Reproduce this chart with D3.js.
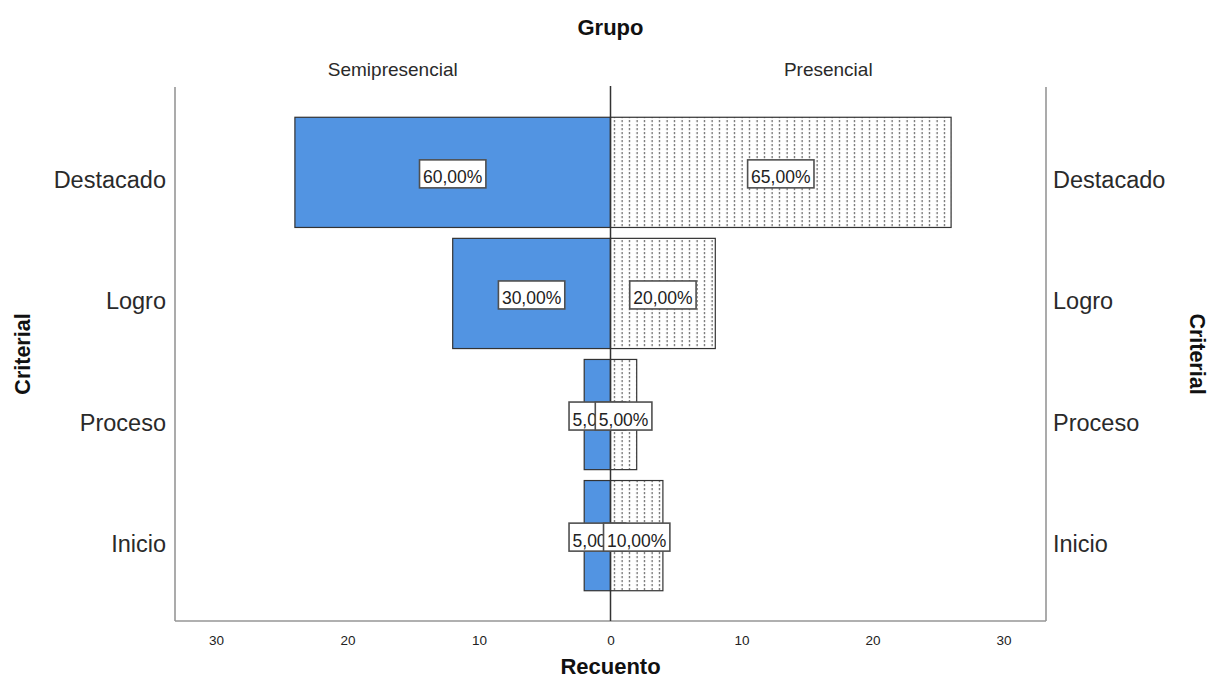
<!DOCTYPE html>
<html><head><meta charset="utf-8">
<script src="https://cdn.jsdelivr.net/npm/d3@7"></script>
<style>body{margin:0;background:#fff}svg{display:block}text{font-family:"Liberation Sans",Arial,sans-serif}</style>
</head><body><svg id="c" width="1211" height="689"></svg>
<script>
const categories = ["Destacado","Logro","Proceso","Inicio"];
const groups = ["Semipresencial","Presencial"];
const semipresencial = [24,12,2,2];
const presencial = [26,8,2,4];
const semiLabels = ["60,00%","30,00%","5,00%","5,00%"];
const presLabels = ["65,00%","20,00%","5,00%","10,00%"];
const ticks = [0,10,20,30];

(function(){
const svg = d3.select("#c");
const cx = 610.5, L = 175, R = 1046, plotTop = 87, plotBottom = 621;
const xL = d3.scaleLinear().domain([0,30]).range([cx, cx-394.5]);
const xR = d3.scaleLinear().domain([0,30]).range([cx, cx+393]);
const y = d3.scaleBand().domain(categories).range([plotTop, plotBottom]).paddingInner(0.09).paddingOuter(0.25);

// pattern
const defs = svg.append("defs");
const pat = defs.append("pattern").attr("id","dots").attr("patternUnits","userSpaceOnUse")
  .attr("x", cx).attr("y", 0).attr("width", 7.5).attr("height", 4);
pat.append("rect").attr("width",7.5).attr("height",4).attr("fill","#fff");
pat.append("rect").attr("x",3.5).attr("y",0).attr("width",1.2).attr("height",2.2).attr("fill","#666");

// frame
const frameCol = "#969696";
svg.append("line").attr("x1",L).attr("x2",L).attr("y1",plotTop).attr("y2",plotBottom).attr("stroke",frameCol).attr("stroke-width",1.6);
svg.append("line").attr("x1",R).attr("x2",R).attr("y1",plotTop).attr("y2",plotBottom).attr("stroke",frameCol).attr("stroke-width",1.6);
svg.append("line").attr("x1",L).attr("x2",R).attr("y1",plotBottom).attr("y2",plotBottom).attr("stroke",frameCol).attr("stroke-width",1.6);

// bars
const bw = y.bandwidth();
svg.append("g").selectAll("rect").data(categories).join("rect")
  .attr("x", (d,i)=>xL(semipresencial[i])).attr("y", d=>y(d))
  .attr("width", (d,i)=>xL(0)-xL(semipresencial[i])).attr("height", bw)
  .attr("fill","#5294e2").attr("stroke","#333").attr("stroke-width",1.2);
svg.append("g").selectAll("rect").data(categories).join("rect")
  .attr("x", xR(0)).attr("y", d=>y(d))
  .attr("width", (d,i)=>xR(presencial[i])-xR(0)).attr("height", bw)
  .attr("fill","url(#dots)").attr("stroke","#333").attr("stroke-width",1.2);

// center line
svg.append("line").attr("x1",cx).attr("x2",cx).attr("y1",plotTop-1).attr("y2",plotBottom).attr("stroke","#333").attr("stroke-width",1.5);

// labels
function addLabel(xc, yc, txt){
  const g = svg.append("g");
  const t = g.append("text").attr("x",xc).attr("y",yc+9.5).attr("text-anchor","middle")
    .attr("font-size",17.5).attr("fill","#222").text(txt);
  const w = t.node().getComputedTextLength() + 7;
  g.insert("rect","text").attr("x",xc-w/2).attr("y",yc-14).attr("width",w).attr("height",28)
    .attr("fill","#fff").attr("stroke","#505050").attr("stroke-width",1.6);
}
categories.forEach((c,i)=>{
  addLabel((xL(0)+xL(semipresencial[i]))/2, y(c)+bw/2+1.5, semiLabels[i]);
});
categories.forEach((c,i)=>{
  addLabel((xR(0)+xR(presencial[i]))/2, y(c)+bw/2+1.5, presLabels[i]);
});

// category labels
svg.append("g").selectAll("text").data(categories).join("text")
  .attr("x",166).attr("y",d=>y(d)+bw/2+16).attr("text-anchor","end")
  .attr("font-size",23.5).attr("fill","#2a2a2a").text(d=>d);
svg.append("g").selectAll("text").data(categories).join("text")
  .attr("x",1053).attr("y",d=>y(d)+bw/2+16).attr("text-anchor","start")
  .attr("font-size",23.5).attr("fill","#2a2a2a").text(d=>d);

// x tick labels
const axL = d3.axisBottom(xL).tickValues(ticks.slice(1)).tickSize(0).tickPadding(14);
const axR = d3.axisBottom(xR).tickValues(ticks).tickSize(0).tickPadding(14);
[axL, axR].forEach(ax=>{
  const g = svg.append("g").attr("transform",`translate(0,${plotBottom})`).call(ax);
  g.select(".domain").remove();
  g.selectAll("text").attr("font-size",13.5).attr("fill","#222").attr("font-family","Liberation Sans, Arial, sans-serif");
});

// titles
svg.append("text").attr("x",cx).attr("y",35).attr("text-anchor","middle")
  .attr("font-size",22).attr("font-weight","bold").attr("fill","#111").text("Grupo");
svg.append("text").attr("x",(L+cx)/2).attr("y",76).attr("text-anchor","middle")
  .attr("font-size",19).attr("fill","#2a2a2a").text(groups[0]);
svg.append("text").attr("x",(cx+R)/2).attr("y",76).attr("text-anchor","middle")
  .attr("font-size",19).attr("fill","#2a2a2a").text(groups[1]);
svg.append("text").attr("x",cx).attr("y",674).attr("text-anchor","middle")
  .attr("font-size",22).attr("font-weight","bold").attr("fill","#111").text("Recuento");
svg.append("text").attr("transform","translate(30,354) rotate(-90)").attr("text-anchor","middle")
  .attr("font-size",21.5).attr("font-weight","bold").attr("fill","#111").text("Criterial");
svg.append("text").attr("transform","translate(1190,354) rotate(90)").attr("text-anchor","middle")
  .attr("font-size",21.5).attr("font-weight","bold").attr("fill","#111").text("Criterial");
})();
</script></body></html>
